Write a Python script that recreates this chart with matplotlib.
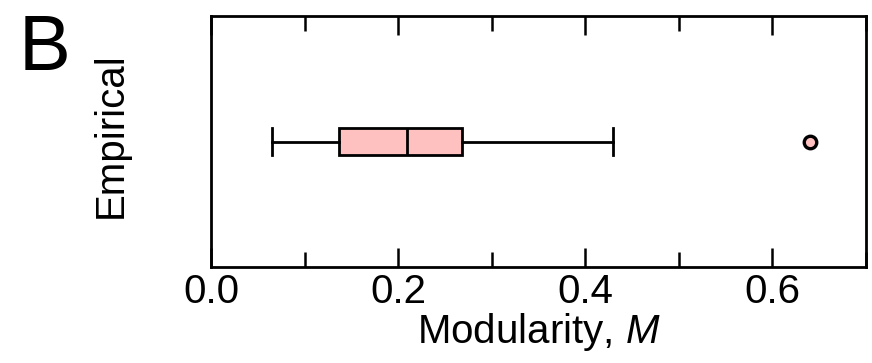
import matplotlib
matplotlib.use('Agg')
import matplotlib.pyplot as plt
import matplotlib.ticker as ticker

plt.rcParams['font.family'] = ['Liberation Sans', 'DejaVu Sans']
plt.rcParams['mathtext.fontset'] = 'custom'
plt.rcParams['mathtext.rm'] = 'Liberation Sans'
plt.rcParams['mathtext.it'] = 'Liberation Sans:italic'

# --- box plot summary ---
label = 'Empirical'
whisker_low = 0.065
q1 = 0.137
median = 0.21
q3 = 0.268
whisker_high = 0.43
outliers = [0.64]

stats = [{
    'label': label,
    'whislo': whisker_low,
    'q1': q1,
    'med': median,
    'q3': q3,
    'whishi': whisker_high,
    'fliers': outliers,
}]

fig = plt.figure(figsize=(8.72, 3.63), dpi=100)
ax = fig.add_axes([0.242, 0.264, 0.751, 0.692])

lw = 2.0
ax.bxp(stats, positions=[1], vert=False, widths=0.107, capwidths=0.107,
       patch_artist=True, showfliers=True,
       boxprops=dict(facecolor='#ffc0c0', edgecolor='black', linewidth=lw),
       medianprops=dict(color='black', linewidth=lw),
       whiskerprops=dict(color='black', linewidth=lw),
       capprops=dict(color='black', linewidth=lw),
       flierprops=dict(marker='o', markerfacecolor='#ffc0c0',
                       markeredgecolor='black', markersize=9,
                       markeredgewidth=2.4))

ax.set_xlim(0, 0.7)
ax.set_ylim(0.5, 1.5)
ax.set_yticks([])

ax.xaxis.set_major_locator(ticker.MultipleLocator(0.2))
ax.xaxis.set_minor_locator(ticker.MultipleLocator(0.1))
ax.xaxis.set_major_formatter(ticker.FormatStrFormatter('%.1f'))
ax.tick_params(axis='x', which='both', direction='in', top=True,
               width=1.8, labelsize=29, pad=4)
ax.tick_params(axis='x', which='major', length=14)
ax.tick_params(axis='x', which='minor', length=11)

for s in ax.spines.values():
    s.set_linewidth(2.0)

ax.set_xlabel('Modularity, $M$', fontsize=29, labelpad=0)
ax.set_ylabel('Empirical', fontsize=29)
ax.yaxis.set_label_coords(-0.124, 0.525)

fig.text(0.021, 0.807, 'B', fontsize=56, ha='left', va='baseline')

fig.savefig('out.png', dpi=100)
